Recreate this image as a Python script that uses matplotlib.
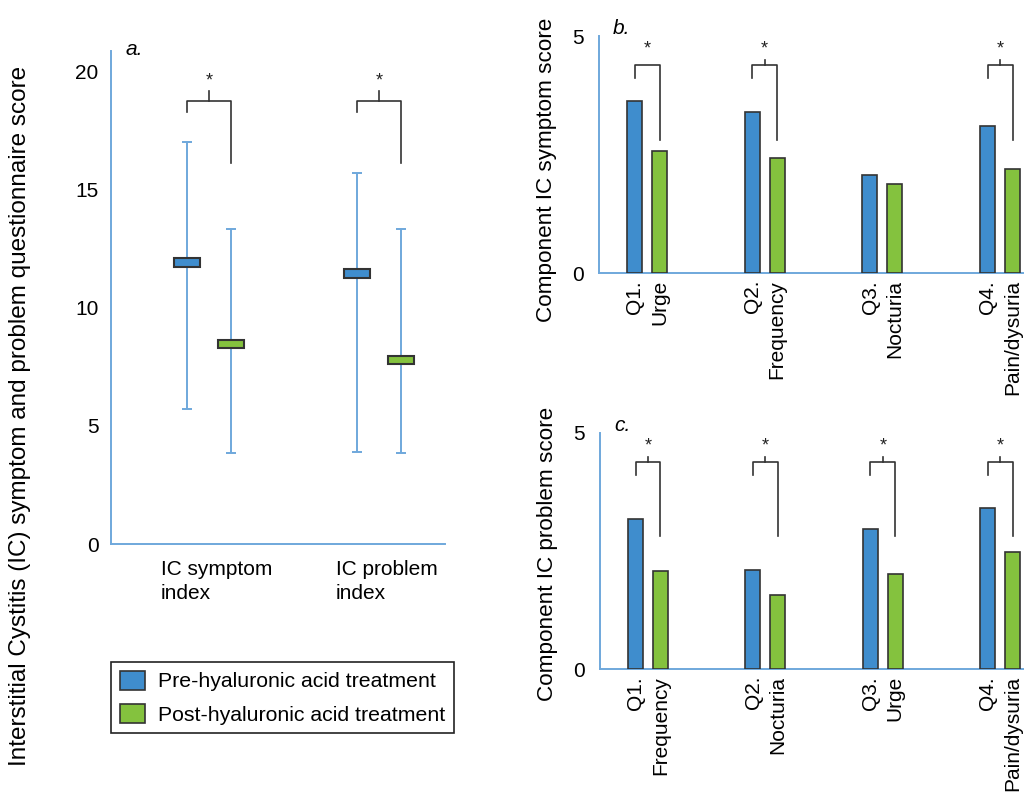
import matplotlib.pyplot as plt
from matplotlib.patches import Patch
from matplotlib.transforms import ScaledTranslation, blended_transform_factory

plt.rcParams['font.family'] = ['Liberation Sans', 'DejaVu Sans']

# Panel a: mean (box) with whisker range, pre vs post treatment
index_labels = ['IC symptom\nindex', 'IC problem\nindex']
index_pre_mean = [11.9, 11.43]
index_pre_low = [5.7, 3.89]
index_pre_high = [17.0, 15.7]
index_post_mean = [8.46, 7.78]
index_post_low = [3.83, 3.83]
index_post_high = [13.32, 13.32]

# Panel b: component IC symptom score
symptom_labels = ['Q1.\nUrge', 'Q2.\nFrequency', 'Q3.\nNocturia', 'Q4.\nPain/dysuria']
symptom_pre = [3.63, 3.40, 2.07, 3.10]
symptom_post = [2.58, 2.43, 1.88, 2.19]
symptom_sig = [True, True, False, True]

# Panel c: component IC problem score
problem_labels = ['Q1.\nFrequency', 'Q2.\nNocturia', 'Q3.\nUrge', 'Q4.\nPain/dysuria']
problem_pre = [3.17, 2.10, 2.97, 3.42]
problem_post = [2.08, 1.57, 2.02, 2.48]
problem_sig = [True, True, True, True]

legend_labels = ['Pre-hyaluronic acid treatment', 'Post-hyaluronic acid treatment']

BLUE = '#3f8dcd'
GREEN = '#84c23e'
SPINE = '#6fa8dc'
EDGE = '#333333'
FS = 15


def style_axes(ax):
    for s in ['top', 'right']:
        ax.spines[s].set_visible(False)
    for s in ['left', 'bottom']:
        ax.spines[s].set_color(SPINE)
        ax.spines[s].set_linewidth(1.4)
    ax.tick_params(length=0, labelsize=FS)


def bracket(ax, x1, x2, top, left_bot, right_bot, tick_top, star_y, tick=True):
    ax.plot([x1, x1, x2, x2], [left_bot, top, top, right_bot], color=EDGE, lw=1.2)
    xm = (x1 + x2) / 2
    if tick:
        ax.plot([xm, xm], [top, tick_top], color=EDGE, lw=1.2)
    ax.text(xm, star_y, '*', ha='center', va='center', fontsize=13, color='#222222')


fig = plt.figure(figsize=(10.24, 7.92), dpi=100)

# ---- panel a ----
ax = fig.add_axes([0.1084, 0.3131, 0.326, 0.6225])
style_axes(ax)
off = 0.129
bw = 0.152
bh = 0.36
for i in range(len(index_labels)):
    for x, m, lo, hi, col in [(i - off, index_pre_mean[i], index_pre_low[i], index_pre_high[i], BLUE),
                              (i + off, index_post_mean[i], index_post_low[i], index_post_high[i], GREEN)]:
        ax.errorbar([x], [m], yerr=[[m - lo], [hi - m]], fmt='none', ecolor=SPINE,
                    elinewidth=1.4, capsize=3.8, capthick=1.4, zorder=2)
        ax.bar([x], [bh], bottom=[m - bh / 2], width=bw, color=col, edgecolor=EDGE,
               linewidth=1.5, zorder=3)
    bracket(ax, i - off, i + off, 18.75, 18.25, 16.1, 19.15, 19.6)
ax.set_xlim(-0.575, 1.384)
ax.set_ylim(0, 20.85)
ax.set_yticks([0, 5, 10, 15, 20])
ax.set_xticks(range(len(index_labels)))
ax.set_xticklabels([])
# category labels, nudged a little right of the group centre as in the original
lab_tr = blended_transform_factory(ax.transData, ax.transAxes) + \
    ScaledTranslation(0.075, -0.16, fig.dpi_scale_trans)
for i, lab in enumerate(index_labels):
    ax.text(i, 0, lab, transform=lab_tr, ha='center', va='top', fontsize=FS,
            multialignment='left', linespacing=1.3)
ax.tick_params(axis='y', pad=9)
ax.set_ylabel('Interstitial Cystitis (IC) symptom and problem questionnaire score',
              fontsize=17.5)
ax.yaxis.set_label_coords(-0.24, 0.26)
ax.text(0.045, 1.003, 'a.', transform=ax.transAxes, fontsize=FS, style='italic',
        ha='left', va='center')


def bar_panel(rect, labels, pre, post, sig, ylabel, letter, label_y, tick_q1=True):
    ax = fig.add_axes(rect)
    style_axes(ax)
    xs = list(range(len(labels)))
    w = 0.127
    o = 0.106
    ax.bar([x - o for x in xs], pre, width=w, color=BLUE, edgecolor=EDGE, linewidth=1.2, zorder=3)
    ax.bar([x + o for x in xs], post, width=w, color=GREEN, edgecolor=EDGE, linewidth=1.2, zorder=3)
    for x, s in zip(xs, sig):
        if s:
            bracket(ax, x - o, x + o, 4.39, 4.11, 2.81, 4.5, 4.72,
                    tick=(x != 0 or tick_q1))
    ax.set_xlim(-0.408, 3.203)
    ax.set_ylim(0, 5)
    ax.set_yticks([0, 5])
    ax.set_xticks(xs)
    ax.set_xticklabels(labels, rotation=90, ha='center', va='top',
                       multialignment='right', linespacing=1.38)
    ax.tick_params(axis='x', pad=5)
    ax.tick_params(axis='y', pad=11)
    ax.set_ylabel(ylabel, fontsize=16.2)
    ax.yaxis.set_label_coords(-0.099, label_y)
    ax.text(0.033, 1.03, letter, transform=ax.transAxes, fontsize=FS, style='italic',
            ha='left', va='center')
    return ax


bar_panel([0.585, 0.6553, 0.415, 0.2992], symptom_labels, symptom_pre, symptom_post,
          symptom_sig, 'Component IC symptom score', 'b.', 0.434, tick_q1=False)
bar_panel([0.586, 0.1553, 0.414, 0.298], problem_labels, problem_pre, problem_post,
          problem_sig, 'Component IC problem score', 'c.', 0.487)

handles = [Patch(facecolor=BLUE, edgecolor=EDGE, linewidth=1.2),
           Patch(facecolor=GREEN, edgecolor=EDGE, linewidth=1.2)]
leg = fig.legend(handles, legend_labels, loc='upper left',
                 bbox_to_anchor=(111 / 1024, 1 - 662 / 792), borderaxespad=0,
                 fontsize=15.3, fancybox=False, edgecolor='#222222', framealpha=1,
                 handlelength=1.2, handleheight=1.0, handletextpad=0.6,
                 labelspacing=0.6, borderpad=0.4)
leg.get_frame().set_linewidth(1.2)

fig.savefig('out.png', dpi=100)
